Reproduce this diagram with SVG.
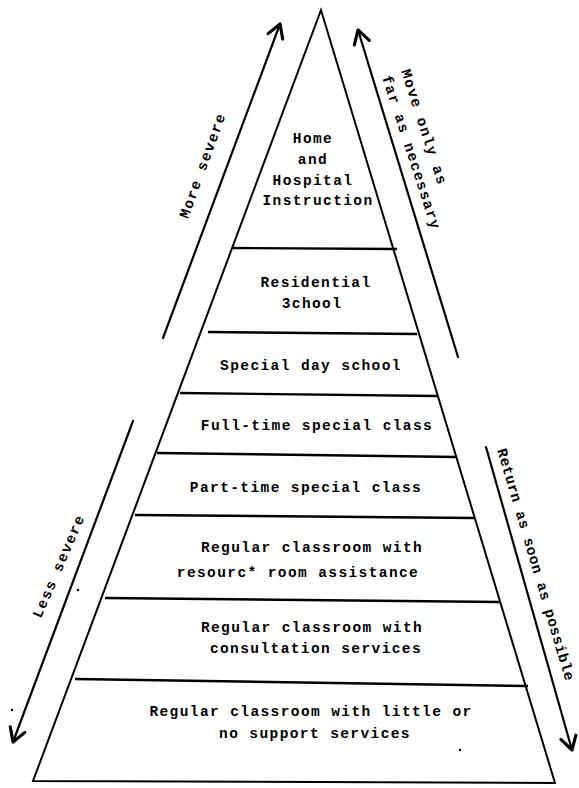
<svg xmlns="http://www.w3.org/2000/svg" width="579" height="788" viewBox="0 0 579 788">
<style>
  .edge { stroke:#000; stroke-width:2; fill:none; stroke-linecap:round; }
  .tier { stroke:#000; stroke-width:2.4; fill:none; }
  .arrow { stroke:#000; stroke-width:2.2; fill:none; stroke-linecap:round; marker-end:url(#head); }
  text { font-family:"Liberation Mono","Courier New",monospace; font-weight:bold; font-size:14.5px; letter-spacing:1.4px; fill:#000; }
  .c { text-anchor:middle; }
  .tight { letter-spacing:0.6px; }
</style>
<defs>
  <marker id="head" markerUnits="userSpaceOnUse" markerWidth="24" markerHeight="24" refX="0" refY="0" viewBox="-14 -10 16 20" orient="auto" overflow="visible">
    <path d="M-11,-6.5 L0,0 L-11,6.5" stroke="#000" stroke-width="2.6" fill="none" stroke-linecap="round" stroke-linejoin="round"/>
  </marker>
</defs>
<rect width="579" height="788" fill="#fff"/>

<g id="pyramid">
  <path class="edge" d="M33,781 L321,10 L555,783 Z"/>
</g>

<g id="tier-home">
  <line class="tier" x1="232" y1="248" x2="397" y2="249"/>
  <text class="c" x="313" y="143">Home</text>
  <text class="c" x="313" y="164">and</text>
  <text class="c" x="313" y="185">Hospital</text>
  <text class="c" x="318" y="205">Instruction</text>
</g>
<g id="tier-residential">
  <line class="tier" x1="208" y1="332" x2="417" y2="334"/>
  <text class="c" x="316" y="287">Residential</text>
  <text class="c" x="312" y="308">3chool</text>
</g>
<g id="tier-specialday">
  <line class="tier" x1="180" y1="393" x2="437" y2="396"/>
  <text class="c" x="311" y="370">Special day school</text>
</g>
<g id="tier-fulltime">
  <line class="tier" x1="157" y1="453" x2="457" y2="457"/>
  <text class="c" x="317" y="430">Full-time special class</text>
</g>
<g id="tier-parttime">
  <line class="tier" x1="135" y1="515" x2="475" y2="518"/>
  <text class="c" x="306" y="492">Part-time special class</text>
</g>
<g id="tier-resource">
  <line class="tier" x1="105" y1="598" x2="500" y2="602"/>
  <text class="c" x="312" y="552">Regular classroom with</text>
  <text class="c" x="298" y="577">resourc* room assistance</text>
</g>
<g id="tier-consultation">
  <line class="tier" x1="75" y1="679" x2="528" y2="686"/>
  <text class="c" x="312" y="632">Regular classroom with</text>
  <text class="c" x="316" y="653">consultation services</text>
</g>
<g id="tier-regular">
  <text class="c" x="311" y="716">Regular classroom with little or</text>
  <text class="c" x="315" y="738">no support services</text>
</g>

<g id="connectors">
  <line class="arrow" x1="163" y1="338" x2="280" y2="24"/>
  <line class="arrow" x1="458" y1="357" x2="358" y2="30"/>
  <line class="arrow" x1="133" y1="421" x2="13" y2="742"/>
  <line class="arrow" x1="486" y1="447" x2="572" y2="750"/>
</g>

<g id="label-more-severe">
  <text class="c" transform="translate(207,167) rotate(-70)">More severe</text>
</g>
<g id="label-move-only">
  <text transform="translate(401,71) rotate(72)"><tspan x="0" y="0">Move only as</tspan><tspan x="0" y="20">far as necessary</tspan></text>
</g>
<g id="label-less-severe">
  <text class="c" transform="translate(63,568) rotate(-66.5)">Less severe</text>
</g>
<g id="label-return">
  <text class="tight" transform="translate(497,450) rotate(73.5)">Return as soon as possible</text>
</g>

<g id="specks" fill="#000">
  <circle cx="78" cy="590" r="1.2"/>
  <circle cx="12" cy="710" r="1.2"/>
  <circle cx="460" cy="750" r="1.2"/>
</g>
</svg>
